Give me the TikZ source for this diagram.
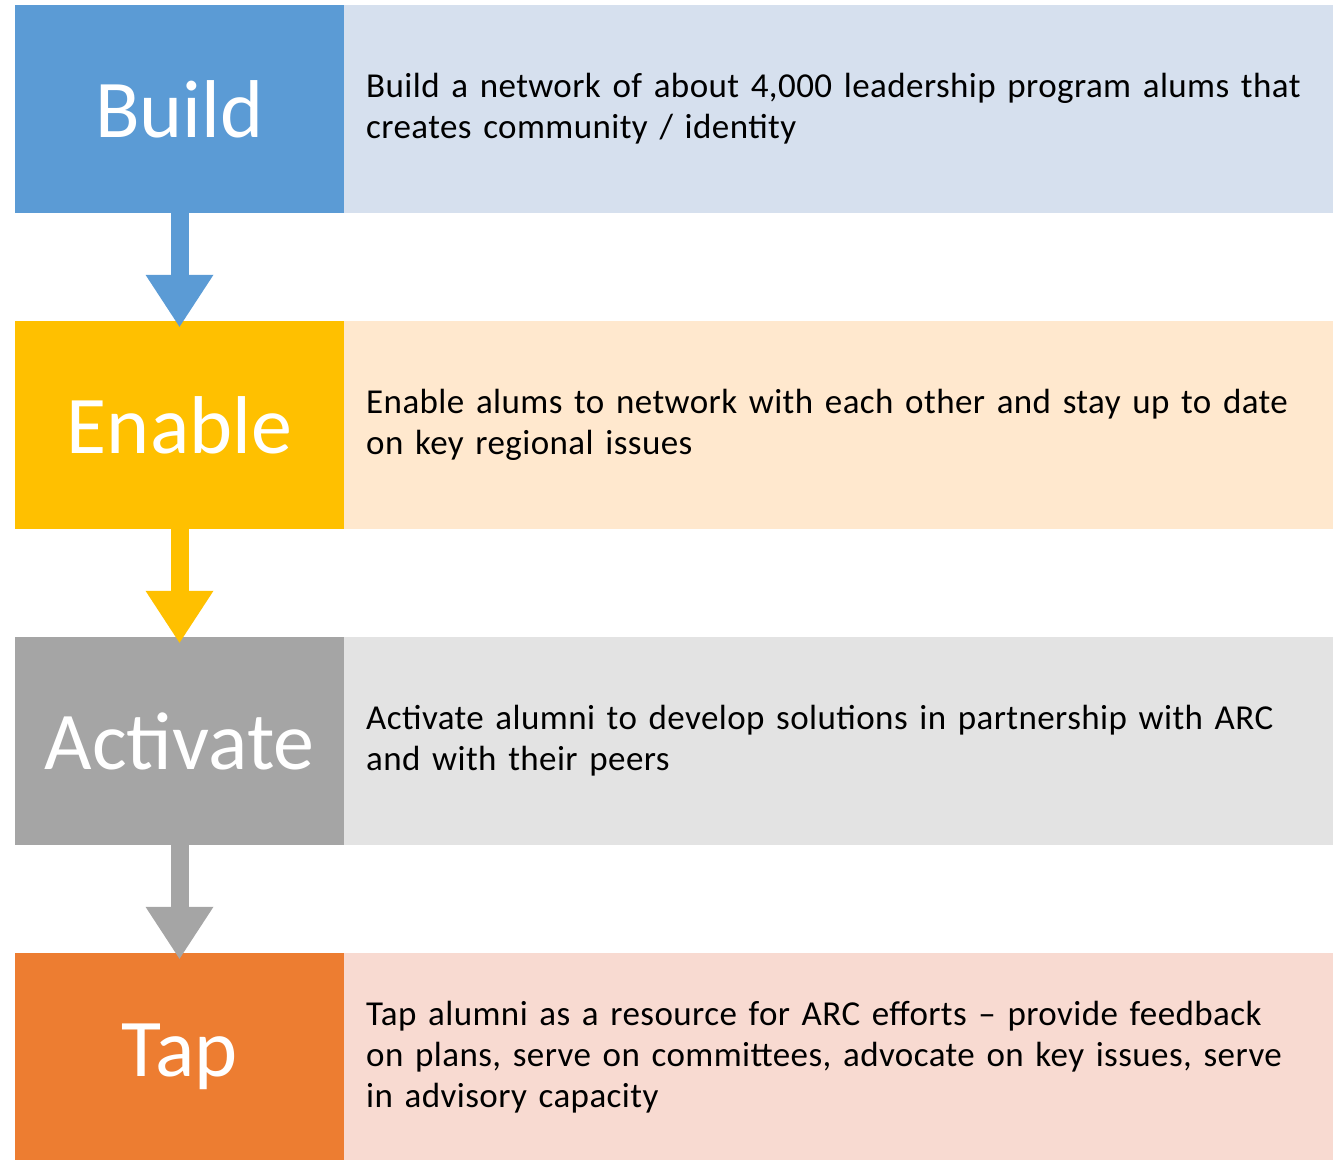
\documentclass[tikz,border=0pt]{standalone}
\usepackage{fontspec}
\setmainfont{Carlito}
\newfontfamily\infofont{Carlito}[LetterSpace=1.2]
\usetikzlibrary{arrows.meta,positioning}
\definecolor{buildc}{HTML}{5B9BD5}
\definecolor{buildl}{HTML}{D6E0EE}
\definecolor{enablec}{HTML}{FFC000}
\definecolor{enablel}{HTML}{FFE8CE}
\definecolor{activc}{HTML}{A5A5A5}
\definecolor{activl}{HTML}{E3E3E3}
\definecolor{tapc}{HTML}{ED7D31}
\definecolor{tapl}{HTML}{F8DAD1}
\tikzset{
  stage/.style={fill=#1, text=white, minimum width=329pt, minimum height=208pt, inner sep=0pt,
    font=\fontsize{82}{90}\selectfont},
  info/.style={fill=#1, anchor=west, text width=945pt, inner xsep=22pt, inner ysep=0pt,
    minimum height=208pt, align=left, font=\infofont\fontsize{35}{41}\selectfont},
  flow/.style={draw=#1, line width=18pt, shorten >=-6pt,
    -{Triangle[width=68pt,length=52pt,line width=0pt,fill=#1]}}
}
\begin{document}
\begin{tikzpicture}[x=1pt,y=-1pt]
    \useasboundingbox (0,0) rectangle (1343,1159);
    \node[stage=buildc] (build) at (179.5,109) {Build};
    \node[info=buildl] (buildtxt) at (344,109) {Build a network of about 4,000 leadership program alums that\\creates community / identity};
    \node[stage=enablec] (enable) at (179.5,425) {Enable};
    \node[info=enablel] (enabletxt) at (344,425) {Enable alums to network with each other and stay up to date\\on key regional issues};
    \node[stage=activc] (activate) at (179.5,741) {Activate};
    \node[info=activl] (activatetxt) at (344,741) {Activate alumni to develop solutions in partnership with ARC\\and with their peers};
    \node[stage=tapc] (tap) at (179.5,1057) {Tap};
    \node[info=tapl] (taptxt) at (344,1057) {Tap alumni as a resource for ARC efforts – provide feedback\\on plans, serve on committees, advocate on key issues, serve\\in advisory capacity};
    \draw[flow=buildc] (build) -- (enable);
    \draw[flow=enablec] (enable) -- (activate);
    \draw[flow=activc] (activate) -- (tap);
\end{tikzpicture}
\end{document}
